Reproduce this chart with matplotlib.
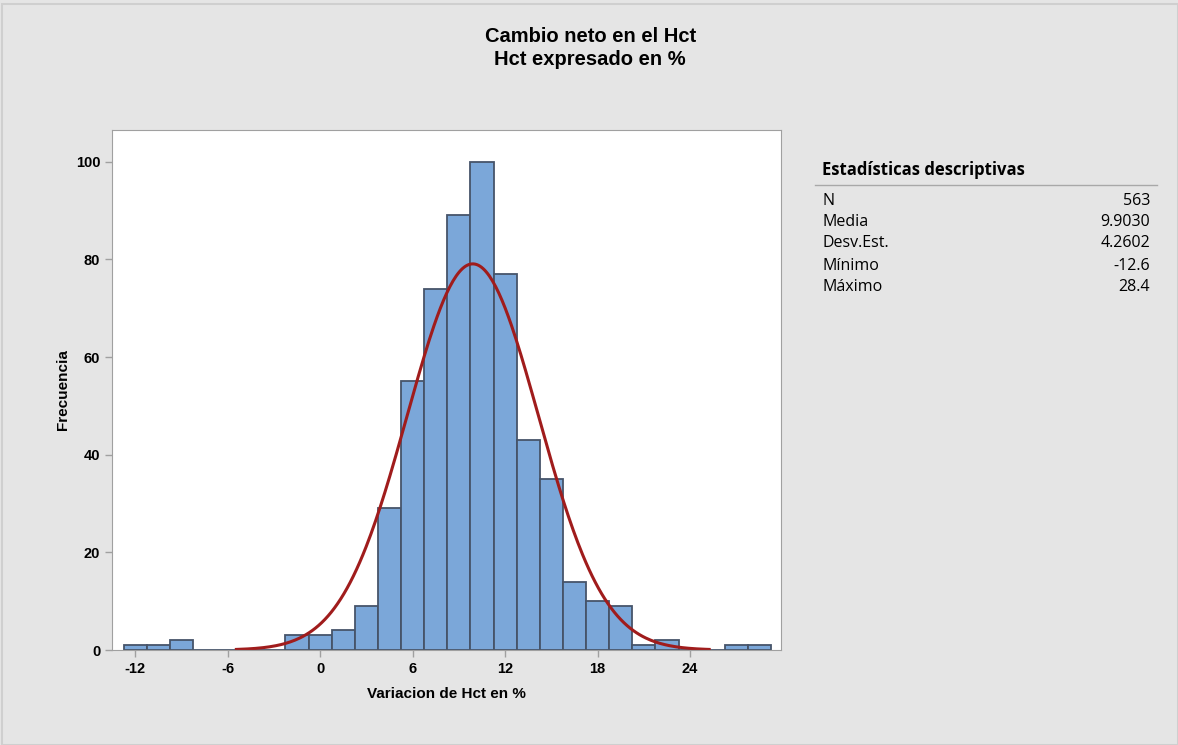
import numpy as np
import matplotlib.pyplot as plt
from matplotlib.patches import Rectangle

plt.rcParams['font.family'] = ['Liberation Sans', 'DejaVu Sans']
plt.rcParams['axes.unicode_minus'] = False

# histogram data (bin centers, width 1.5)
centers = [-12, -10.5, -9, -7.5, -6, -4.5, -3, -1.5, 0, 1.5, 3, 4.5, 6, 7.5, 9, 10.5,
           12, 13.5, 15, 16.5, 18, 19.5, 21, 22.5, 24, 25.5, 27, 28.5]
counts = [1, 1, 2, 0, 0, 0, 0, 3, 3, 4, 9, 29, 55, 74, 89, 100,
          77, 43, 35, 14, 10, 9, 1, 2, 0, 0, 1, 1]
bin_width = 1.5

stat_labels = ['N', 'Media', 'Desv.Est.', 'Mínimo', 'Máximo']
stat_values = ['563', '9.9030', '4.2602', '-12.6', '28.4']
n_obs = 563
mean = 9.9030
sd = 4.2602

fig = plt.figure(figsize=(11.78, 7.45), dpi=100, facecolor='#e5e5e5')
fig.patches.append(Rectangle((0.002, 0.0), 0.998, 0.995, transform=fig.transFigure,
                             fill=False, edgecolor='#cfcfcf', lw=1.5))

ax = fig.add_axes([0.0951, 0.1275, 0.5679, 0.698])
ax.bar(centers, counts, width=bin_width, color='#7ba7d9', edgecolor='#46546a', linewidth=1.3)

# fitted normal curve from the reported mean / st.dev
x = np.linspace(mean - 3.6 * sd, mean + 3.6 * sd, 300)
y = n_obs * bin_width * np.exp(-0.5 * ((x - mean) / sd) ** 2) / (sd * np.sqrt(2 * np.pi))
ax.plot(x, y, color='#a01c1c', lw=2.2)

ax.set_xlim(-13.5, 29.9)
ax.set_ylim(0, 106.5)
ax.set_xticks([-12, -6, 0, 6, 12, 18, 24])
ax.set_yticks([0, 20, 40, 60, 80, 100])
for s in ax.spines.values():
    s.set_color('#a0a0a0')
ax.tick_params(colors='#a0a0a0', labelcolor='black', length=5, width=1)
for lab in ax.get_xticklabels() + ax.get_yticklabels():
    lab.set_fontweight('bold')
    lab.set_fontsize(10.5)
ax.set_xlabel('Variacion de Hct en %', fontsize=11, fontweight='bold', labelpad=8)
ax.set_ylabel('Frecuencia', fontsize=11, fontweight='bold', labelpad=4)

fig.text(0.501, 0.951, 'Cambio neto en el Hct', ha='center', va='center',
         fontsize=14.5, fontweight='bold')
fig.text(0.501, 0.920, 'Hct expresado en %', ha='center', va='center',
         fontsize=14.5, fontweight='bold')

# descriptive statistics table
tx0 = 822 / 1178
tx1 = 1150 / 1178
fig.text(tx0, 1 - 170 / 745, 'Estadísticas descriptivas', ha='left', va='center',
         fontsize=12, fontweight='bold', family=['Open Sans', 'DejaVu Sans'])
fig.add_artist(plt.Line2D([815 / 1178, 1157 / 1178], [1 - 185 / 745] * 2,
                          color='#a8a8a8', lw=1))
rows_y = [201, 222, 243, 266, 287]
for lab, val, yy in zip(stat_labels, stat_values, rows_y):
    fig.text(tx0, 1 - yy / 745, lab, ha='left', va='center', fontsize=11.5,
             family=['Open Sans', 'DejaVu Sans'])
    fig.text(tx1, 1 - yy / 745, val, ha='right', va='center', fontsize=11.5,
             family=['Open Sans', 'DejaVu Sans'])

fig.savefig('out.png', dpi=100, facecolor=fig.get_facecolor())
